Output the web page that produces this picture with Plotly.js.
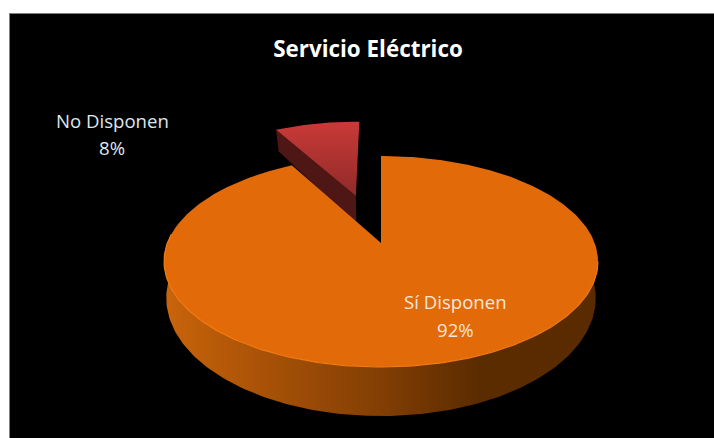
<!DOCTYPE html>
<html>
<head>
<meta charset="utf-8">
<script src="https://cdn.plot.ly/plotly-3.0.1.min.js"></script>
<style>html,body{margin:0;padding:0;background:#fff}#chart{width:714px;height:438px}</style>
</head>
<body>
<div id="chart"></div>
<script>
var categories = ['Sí Disponen', 'No Disponen'];
var values = [92, 8];
var chartTitle = 'Servicio Eléctrico';

var FONT = '"Open Sans", Lato, sans-serif';
var total = values[0] + values[1];
var sweepA = values[0] / total * 360;

// Perspective view of the pie disc: top plane and bottom plane
function makePlane(yBack, yMid, yFront, R, cx) {
  // solve Y=(a v + b)/(c v + 1) through v=1,0,-1
  var b = yMid;
  var c = (2 * yMid - yBack - yFront) / (yBack - yFront);
  var a = yBack * (1 + c) - b;
  return function (u, v) {
    var d = c * v + 1;
    return [cx + R * u / d, (a * v + b) / d];
  };
}
var top_ = makePlane(156, 243, 367, 213.6, 381);
var bot_ = makePlane(180, 276, 416, 211, 381);

function pt(plane, deg, r, ou, ov) {
  var t = deg * Math.PI / 180;
  return plane(r * Math.sin(t) + (ou || 0), r * Math.cos(t) + (ov || 0));
}
function collect(list) {
  return { x: list.map(function (p) { return p[0]; }), y: list.map(function (p) { return p[1]; }) };
}
function arc(plane, from, to, ou, ov) {
  var n = Math.max(2, Math.ceil(Math.abs(to - from))), out = [];
  for (var i = 0; i <= n; i++) out.push(pt(plane, from + (to - from) * i / n, 1, ou, ov));
  return out;
}
function poly(list, extra) {
  var s = collect(list);
  var tr = { type: 'scatter', mode: 'lines', x: s.x, y: s.y, fill: 'toself', line: { width: 0 }, hoverinfo: 'skip', showlegend: false };
  for (var k in extra) tr[k] = extra[k];
  return tr;
}

// exploded slice offset
var mid = (sweepA + 360) / 2 * Math.PI / 180;
var ex = 0.515, ou = ex * Math.sin(mid), ov = ex * Math.cos(mid);

var redTop = [top_(ou, ov)].concat(arc(top_, sweepA, 360, ou, ov));
var redWall = [top_(ou, ov), bot_(ou, ov), pt(bot_, sweepA, 1, ou, ov), pt(top_, sweepA, 1, ou, ov)];
var orangeTop = [top_(0, 0)].concat(arc(top_, 0, sweepA));
var orangeWall = arc(top_, 80, 280).concat(arc(bot_, 280, 80));
var rim = arc(top_, 100, 275);

var data = [
  poly(redWall, { fillcolor: '#4e1614' }),
  poly(redTop, {
    fillgradient: { type: 'vertical', start: 120, stop: 200,
      colorscale: [[0, '#cb3a38'], [1, '#8c2a28']] }
  }),
  poly(orangeWall, {
    fillgradient: { type: 'horizontal', start: 164, stop: 598,
      colorscale: [[0, '#c9650c'], [0.12, '#b85a08'], [0.5, '#823e04'], [0.72, '#5c2c01'], [1, '#5a2b00']] }
  }),
  poly(orangeTop, { fillcolor: '#e26a09' }),
  { type: 'scatter', mode: 'lines', x: collect(rim).x, y: collect(rim).y,
    line: { color: '#f27c12', width: 1.2 }, hoverinfo: 'skip', showlegend: false }
];

function pct(i) { return Math.round(values[i] / total * 100) + '%'; }
function label(x, y, text, color) {
  return { x: x, y: y, text: text, showarrow: false, xanchor: 'center', yanchor: 'middle',
    font: { family: FONT, size: 18.6, color: color } };
}

var layout = {
  width: 714, height: 438,
  margin: { l: 10, r: 0, t: 14, b: 0, pad: 0 },
  paper_bgcolor: '#ffffff', plot_bgcolor: '#000000',
  showlegend: false, hovermode: false,
  title: { text: '<b>' + chartTitle + '</b>', x: 368 / 714, xanchor: 'center', y: 1 - 49 / 438, yanchor: 'middle',
    font: { family: FONT, size: 22.4, color: '#ffffff' } },
  xaxis: { range: [10, 714], side: 'top', visible: true, showgrid: false, zeroline: false, showticklabels: false, ticks: '',
    showline: true, linecolor: '#808080', linewidth: 1, fixedrange: true },
  yaxis: { range: [438, 14], showgrid: false, zeroline: false, showticklabels: false, ticks: '',
    showline: true, linecolor: '#808080', linewidth: 1, fixedrange: true },
  annotations: [
    label(455, 301, categories[0], '#f6e6d8'),
    label(455, 329, pct(0), '#f6e6d8'),
    label(112, 120, categories[1], '#dfe6ee'),
    label(112, 147, pct(1), '#dfe6ee')
  ]
};
Plotly.newPlot('chart', data, layout, { displayModeBar: false, staticPlot: true });
</script>
</body>
</html>
